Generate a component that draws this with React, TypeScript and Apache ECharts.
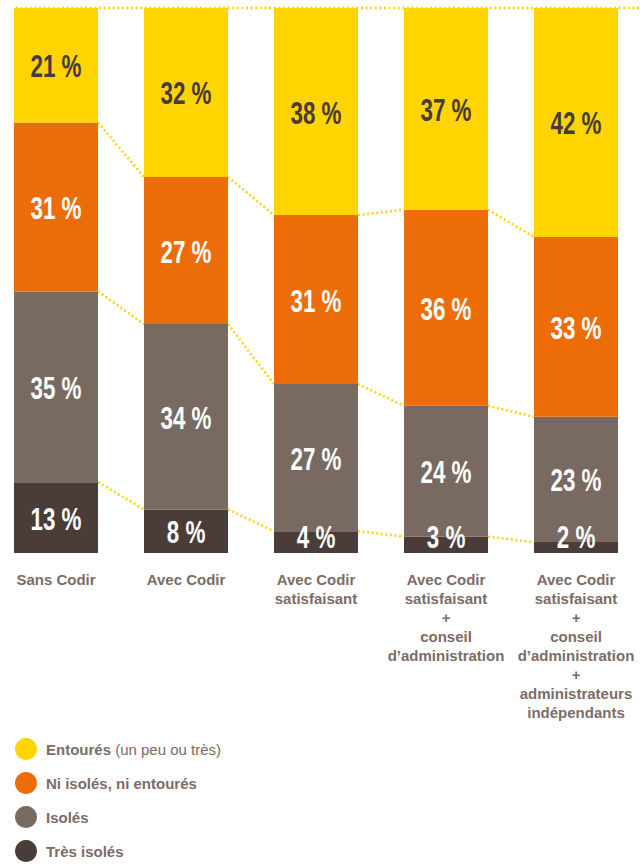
import React, { useEffect, useRef } from "react";
import * as echarts from "echarts";

const categories = [
  "Sans Codir",
  "Avec Codir",
  "Avec Codir\nsatisfaisant",
  "Avec Codir\nsatisfaisant\n+\nconseil\nd’administration",
  "Avec Codir\nsatisfaisant\n+\nconseil\nd’administration\n+\nadministrateurs\nindépendants",
];
const tresIsoles = [13, 8, 4, 3, 2];
const isoles = [35, 34, 27, 24, 23];
const niNi = [31, 27, 31, 36, 33];
const entoures = [21, 32, 38, 37, 42];

const seriesNames = ["Très isolés", "Isolés", "Ni isolés, ni entourés", "Entourés"];
const colors = ["#4A3C39", "#786A61", "#EC6C07", "#FFD400"];

const BAR_W = 84;
const TXT_FONT = '"Liberation Sans", Arial, Helvetica, sans-serif';
const TXT_COLOR = "#7B6C66";

export default function App() {
  const ref = useRef<HTMLDivElement>(null);
  useEffect(() => {
    if (!ref.current) return;
    const chart = echarts.init(ref.current, null, { renderer: "svg" });
    const all = [tresIsoles, isoles, niNi, entoures];
    const cum = categories.map((_, i) => [
      tresIsoles[i],
      tresIsoles[i] + isoles[i],
      tresIsoles[i] + isoles[i] + niNi[i],
    ]);
    const connData = categories.slice(0, -1).map((_, i) => [i, ...cum[i], ...cum[i + 1]]);
    const labelData = categories.map((_, i) => [i, tresIsoles[i], isoles[i], niNi[i], entoures[i]]);

    const barSeries = all.map((vals, s) => ({
      name: seriesNames[s],
      type: "bar",
      stack: "total",
      barWidth: BAR_W,
      clip: true,
      itemStyle: { color: colors[s] },
      data: vals,
    }));

    const dotStyle = {
      stroke: "#FFD400",
      lineWidth: 2.5,
      lineDash: [2, 2.6],
    };

    chart.setOption({
      animation: false,
      grid: { left: 56, right: 64, top: 8, bottom: 311 },
      xAxis: {
        type: "category",
        data: categories,
        boundaryGap: false,
        axisLine: { show: false },
        axisTick: { show: false },
        axisLabel: {
          margin: 17,
          interval: 0,
          color: TXT_COLOR,
          fontFamily: TXT_FONT,
          fontWeight: "bold",
          fontSize: 15,
          lineHeight: 19,
          align: "center",
        },
      },
      yAxis: {
        type: "value",
        min: 0,
        max: 100,
        show: false,
        splitLine: { show: false },
      },
      legend: {
        orient: "vertical",
        left: 15,
        top: 738,
        padding: 0,
        itemWidth: 22,
        itemHeight: 22,
        itemGap: 12,
        icon: "circle",
        selectedMode: false,
        data: ["Entourés", "Ni isolés, ni entourés", "Isolés", "Très isolés"],
        formatter: (name: string) =>
          name === "Entourés" ? "{b|Entourés} {n|(un peu ou très)}" : "{b|" + name + "}",
        textStyle: {
          color: TXT_COLOR,
          fontFamily: TXT_FONT,
          fontSize: 15,
          padding: [0, 0, 0, 4],
          rich: {
            b: { color: TXT_COLOR, fontFamily: TXT_FONT, fontSize: 15, fontWeight: "bold" },
            n: { color: TXT_COLOR, fontFamily: TXT_FONT, fontSize: 15, fontWeight: "normal" },
          },
        },
      },
      series: [
        ...barSeries,
        {
          type: "custom",
          name: "connectors",
          silent: true,
          data: connData,
          encode: { x: 0, y: 1 },
          renderItem: (params: any, api: any) => {
            const i = api.value(0);
            const children: any[] = [];
            for (let k = 1; k <= 3; k++) {
              const p1 = api.coord([i, api.value(k)]);
              const p2 = api.coord([i + 1, api.value(k + 3)]);
              children.push({
                type: "line",
                shape: { x1: p1[0] + BAR_W / 2, y1: p1[1], x2: p2[0] - BAR_W / 2, y2: p2[1] },
                style: dotStyle,
              });
            }
            if (i === 0) {
              const t = api.coord([0, 100]);
              children.push({
                type: "line",
                shape: { x1: t[0] - BAR_W / 2 + 2, y1: t[1], x2: api.getWidth(), y2: t[1] },
                style: dotStyle,
              });
            }
            return { type: "group", children };
          },
        },
        {
          type: "custom",
          name: "labels",
          silent: true,
          z: 5,
          data: labelData,
          encode: { x: 0, y: 1 },
          renderItem: (params: any, api: any) => {
            const i = api.value(0);
            const children: any[] = [];
            let base = 0;
            for (let k = 1; k <= 4; k++) {
              const v = api.value(k);
              const top = Math.min(base + v, 100);
              const pb = api.coord([i, base]);
              const pt = api.coord([i, top]);
              const h = pb[1] - pt[1];
              const cy = h < 32 ? pb[1] - 16 : (pb[1] + pt[1]) / 2 + 1;
              children.push({
                type: "text",
                x: pb[0],
                y: cy,
                scaleX: 0.7,
                style: {
                  text: v + " %",
                  fill: k === 4 ? "#473A37" : "#FFFFFF",
                  fontFamily: TXT_FONT,
                  fontWeight: "bold",
                  fontSize: 32,
                  align: "center",
                  verticalAlign: "middle",
                },
              });
              base += v;
            }
            return { type: "group", children };
          },
        },
      ],
    });
    return () => chart.dispose();
  }, []);
  return (
    <div
      ref={ref}
      style={{ position: "fixed", left: 0, top: 0, width: 640, height: 864, background: "#fff" }}
    />
  );
}
